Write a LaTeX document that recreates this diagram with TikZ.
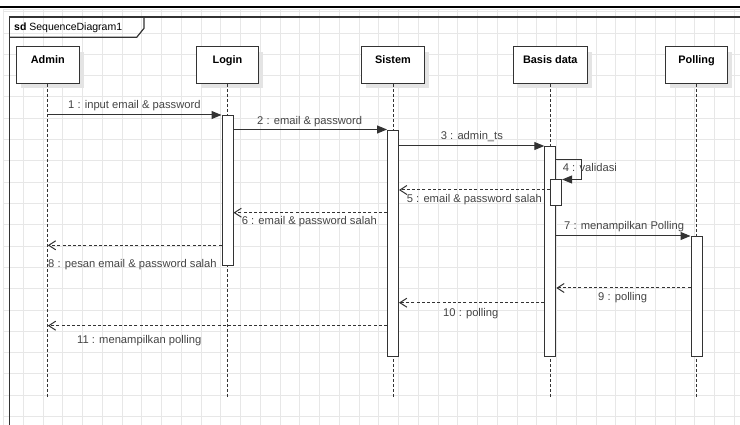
\documentclass[tikz,border=0pt]{standalone}
\usepackage{fontspec}
\setmainfont{Liberation Sans}
\usetikzlibrary{arrows.meta,calc,shadows}
\definecolor{ink}{HTML}{333333}
\definecolor{txt}{HTML}{454545}
\definecolor{gridc}{HTML}{E7E7E7}
\definecolor{shade}{HTML}{E4E4E4}

\begin{document}
\begin{tikzpicture}[x=1pt,y=-1pt,
  head/.style={draw=ink, line width=1pt, fill=white, minimum width=#1,
    font=\fontsize{10.9}{12}\selectfont\bfseries, text=black,
    inner xsep=0pt, inner ysep=8.8pt, text height=8pt, text depth=11.1pt,
    drop shadow={shadow xshift=4.5pt, shadow yshift=-5pt, fill=shade, opacity=1}},
  head/.default=62.5pt,
  bar/.style={draw=ink, line width=1pt, fill=white, minimum width=11pt,
    minimum height=#1, inner sep=0pt, anchor=north},
  life/.style={draw=ink, line width=0.9pt, dash pattern=on 3pt off 2pt},
  call/.style={draw=ink, line width=1pt, -{Triangle[length=10pt,width=8pt]}},
  reply/.style={draw=ink, line width=1pt, dash pattern=on 3pt off 2.2pt,
    -{Straight Barb[length=7pt,width=9pt,line width=1pt]}},
  lbl/.style={font=\fontsize{11.2}{13}\selectfont, text=txt, inner sep=0pt, anchor=base west},
  frameline/.style={draw=ink, line width=1.2pt}
]
\useasboundingbox (0,0) rectangle (740,425);
\fill[white] (0,0) rectangle (740,425);

% background grid
\foreach \k in {1,...,37} \draw[gridc, line width=0.8pt] ({3.5+19.75*\k},9.3) -- ({3.5+19.75*\k},425);
\foreach \k in {0,...,19} \draw[gridc, line width=0.8pt] (3.3,{11.7+21.3*\k}) -- (740,{11.7+21.3*\k});
\draw[gridc, line width=0.8pt] (3.3,425) -- (3.3,9.3) -- (740,9.3);

% window rule and diagram frame
\draw[black, line width=2pt] (0,7) -- (740,7);
\draw[frameline] (9.5,425) -- (9.5,17) -- (740,17);
\draw[frameline] (9.5,37.3) -- (136.7,37.3) -- (144,28.3) -- (144,17);
\node[font=\fontsize{10.5}{12}\selectfont, text=black, inner sep=0pt, anchor=base west] (title)
  at (14,30.5) {\textbf{sd} SequenceDiagram1};

% lifeline heads
\node[head=63pt] (admin) at (47.8,65) {Admin};
\node[head] (login) at (227.5,65) {Login};
\node[head] (sistem) at (393,65) {Sistem};
\node[head=73.4pt] (basis) at (550.3,65) {Basis data};
\node[head=62.7pt] (polling) at (696.5,65) {Polling};

% lifelines
\foreach \p in {admin,login,sistem,basis,polling}
  \draw[life] (\p.south) -- (\p.south |- 0,397);

% activation bars
\node[bar=150pt] (lbar) at (login.center |- 0,115) {};
\node[bar=225.7pt] (sbar) at (sistem.center |- 0,130) {};
\node[bar=209.7pt] (bbar) at (basis.center |- 0,146) {};
\node[bar=26.6pt] (vbar) at ($(basis.center |- 0,178.7)+(5.8,0)$) {};
\node[bar=119.7pt] (pbar) at (polling.center |- 0,236) {};

% messages
\draw[call] (admin.center |- 0,115) -- (lbar.west |- 0,115);
\node[lbl] (m1) at (68,109) {1 : input email \& password};

\draw[call] (lbar.east |- 0,129.5) -- (sbar.west |- 0,129.5);
\node[lbl] (m2) at (257,124.7) {2 : email \& password};

\draw[call] (sbar.east |- 0,146) -- (bbar.west |- 0,146);
\node[lbl] (m3) at (440.7,140) {3 : admin\_ts};

\coordinate (turn) at (581.7,160);
\draw[call] (bbar.east |- 0,160) -- (turn) -- (turn |- 0,179.5) -- (vbar.east |- 0,179.5);
\node[lbl] (m4) at (562.7,171.7) {4 : validasi};

\draw[reply] (vbar.west |- 0,190) -- (sbar.east |- 0,190);
\node[lbl] (m5) at (406.7,203) {5 : email \& password salah};

\draw[reply] (sbar.west |- 0,212.7) -- (lbar.east |- 0,212.7);
\node[lbl] (m6) at (241.7,225) {6 : email \& password salah};

\draw[call] (bbar.east |- 0,236) -- (pbar.west |- 0,236);
\node[lbl] (m7) at (564,230) {7 : menampilkan Polling};

\draw[reply] (lbar.west |- 0,245.3) -- (admin.center |- 0,245.3);
\node[lbl] (m8) at (48,267.3) {8 : pesan email \& password salah};

\draw[reply] (pbar.west |- 0,288) -- (bbar.east |- 0,288);
\node[lbl] (m9) at (598,300.7) {9 : polling};

\draw[reply] (bbar.west |- 0,302.7) -- (sbar.east |- 0,302.7);
\node[lbl] (m10) at (443,316.3) {10 : polling};

\draw[reply] (sbar.west |- 0,325.7) -- (admin.center |- 0,325.7);
\node[lbl] (m11) at (77,343) {11 : menampilkan polling};
\end{tikzpicture}
\end{document}
